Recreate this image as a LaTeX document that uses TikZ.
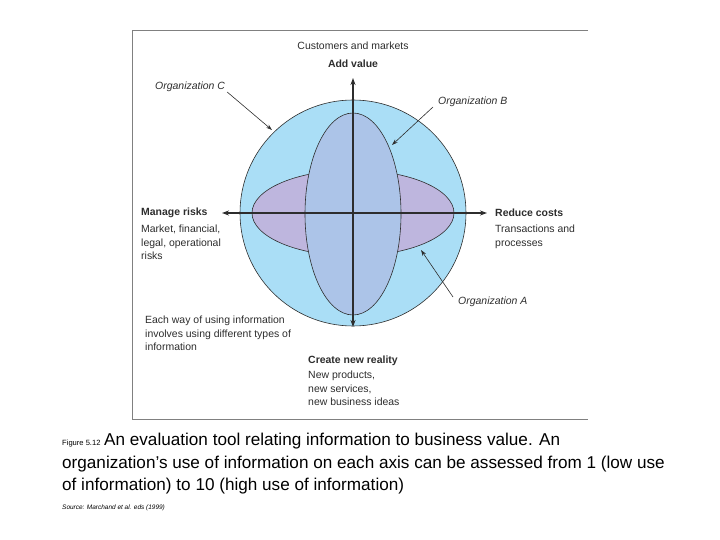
\documentclass[tikz,border=0pt]{standalone}
\usepackage{fontspec}
\setmainfont{Liberation Sans}
\usetikzlibrary{arrows.meta}
\definecolor{circ}{RGB}{170,222,246}
\definecolor{vell}{RGB}{172,196,232}
\definecolor{hell}{RGB}{190,182,222}
\definecolor{txt}{RGB}{45,45,45}
\begin{document}
\begin{tikzpicture}[x=1bp,y=-1bp,
  lab/.style={font=\fontsize{10.5}{13.4}\selectfont,text=txt,inner sep=0pt},
  itl/.style={lab,font=\fontsize{10.5}{13.4}\selectfont\itshape},
  blk/.style={lab,font=\fontsize{10.5}{13.4}\selectfont\bfseries},
  ptr/.style={draw=txt,line width=0.6pt,-{Stealth[length=6pt,width=4pt]}},
  axis/.style={draw=txt,line width=1.1pt,{Stealth[length=7pt,width=5pt]}-{Stealth[length=7pt,width=5pt]}}]
\useasboundingbox (0,0) rectangle (720,540);
\draw[gray,line width=0.6pt] (588,30) -- (132,30) -- (132,419) -- (588,419);
\draw[fill=circ,draw=txt,line width=0.6pt] (353,213) circle (113);
\draw[fill=hell,draw=txt,line width=0.6pt] (353,213) ellipse (101 and 43);
\draw[fill=vell,draw=txt,line width=0.6pt] (353,214) ellipse (48 and 101);
\coordinate (t) at (353,78); \coordinate (b) at (353,327);
\coordinate (l) at (222,213); \coordinate (r) at (487,213);
\draw[axis] (t) -- (b);
\draw[axis] (l) -- (r);
\node[lab] (cm) at (353,46) {Customers and markets};
\node[blk] (av) at (353,64) {Add value};
\node[itl,anchor=west] (oc) at (155,87) {Organization C};
\node[itl,anchor=west] (ob) at (438,102) {Organization B};
\node[itl,anchor=west] (oa) at (458,302) {Organization A};
\coordinate (oce) at (272,130); \coordinate (obe) at (392,145); \coordinate (oae) at (421,250);
\draw[ptr] (oc.east) ++(2,5) coordinate (ocs) (ocs) -- (oce);
\draw[ptr] (ob.west) ++(-5,5) coordinate (obs) (obs) -- (obe);
\draw[ptr] (oa.west) ++(-5,-5) coordinate (oas) (oas) -- (oae);
\node[blk,anchor=west] (mr) at (141,213) {Manage risks};
\node[lab,anchor=north west,align=left] (mrt) at (141,225) {Market, financial,\\legal, operational\\risks};
\node[blk,anchor=west] (rc) at (495,213) {Reduce costs};
\node[lab,anchor=north west,align=left] (rct) at (495,225) {Transactions and\\processes};
\node[lab,anchor=north west,align=left] (ew) at (145,316) {Each way of using information\\involves using different types of\\information};
\node[blk,anchor=west] (cn) at (308,361) {Create new reality};
\node[lab,anchor=north west,align=left] (cnt) at (308,371) {New products,\\new services,\\new business ideas};
\node[anchor=base west,inner sep=0pt,font=\fontsize{7.6}{9}\selectfont] (fig) at (62,445) {Figure 5.12};
\node[anchor=base west,inner sep=0pt,font=\fontsize{17.2}{22.5}\selectfont,align=left] (cap) at (104,445) {An evaluation tool relating information to business value. An};
\node[anchor=base west,inner sep=0pt,font=\fontsize{17.2}{22.5}\selectfont] (cap2) at (62,468) {organization’s use of information on each axis can be assessed from 1 (low use};
\node[anchor=base west,inner sep=0pt,font=\fontsize{17.2}{22.5}\selectfont] (cap3) at (62,490) {of information) to 10 (high use of information)};
\node[anchor=base west,inner sep=0pt,font=\fontsize{6.5}{7}\selectfont\itshape] (src) at (62,509) {Source: Marchand et al. eds (1999)};
\end{tikzpicture}
\end{document}
